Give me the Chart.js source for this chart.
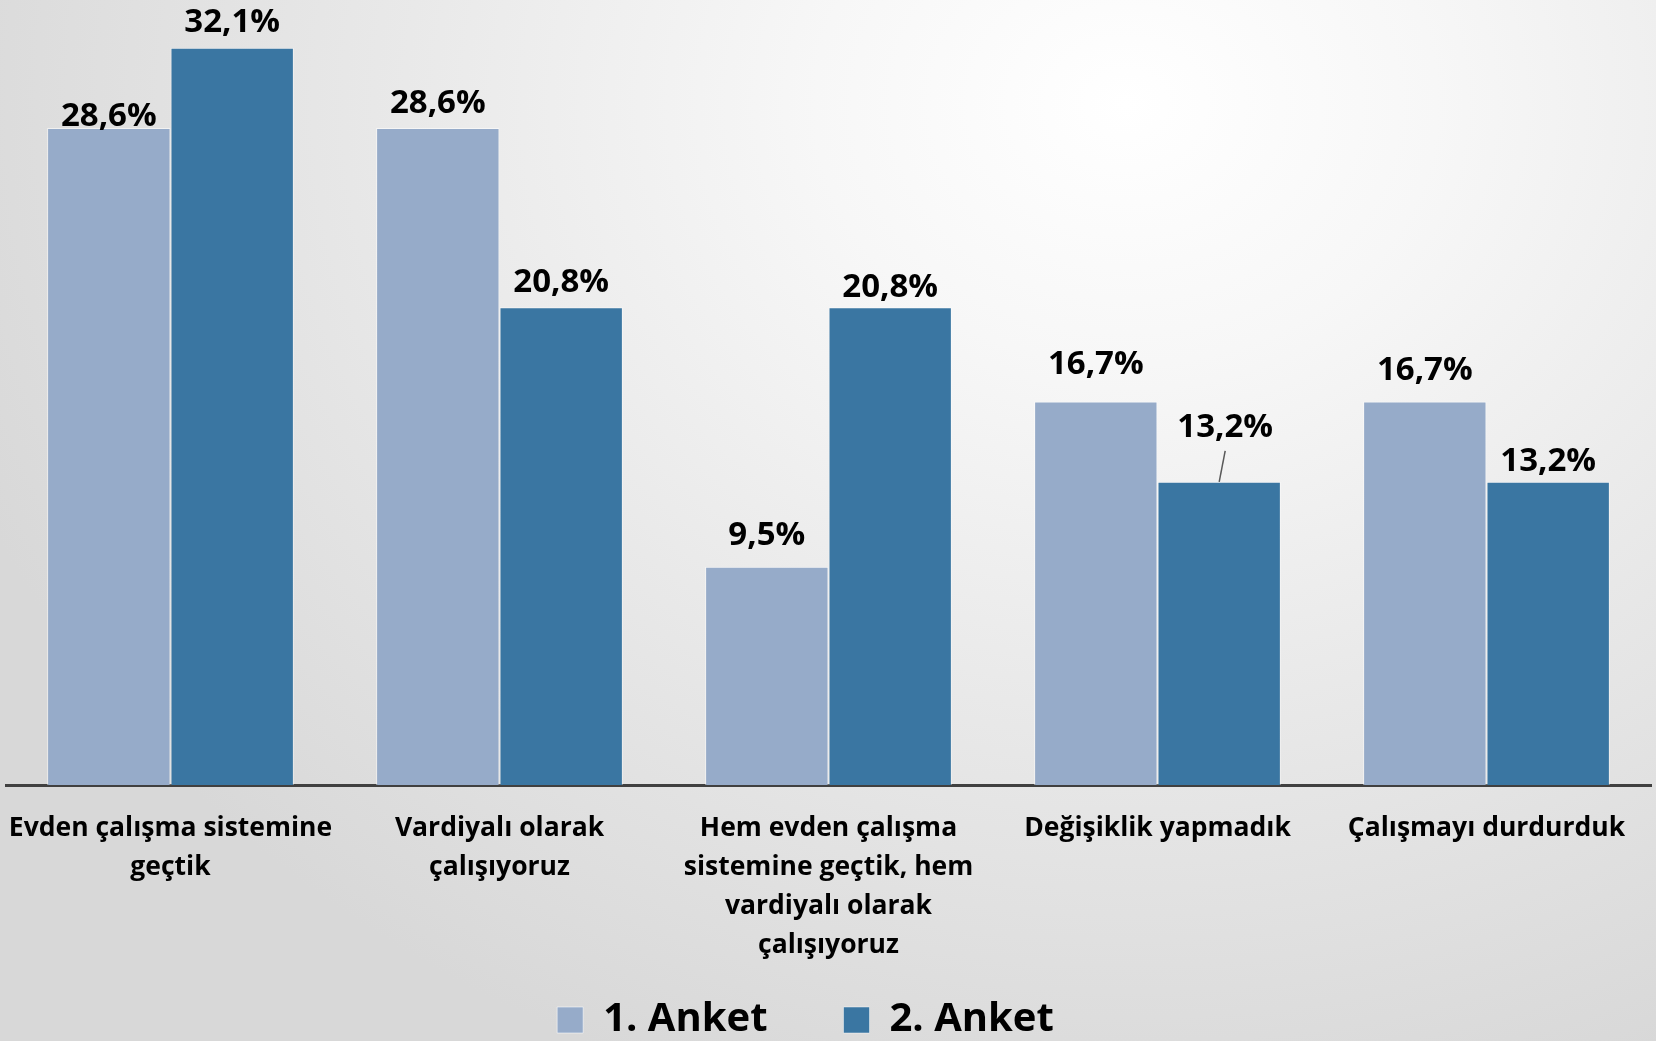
<!DOCTYPE html>
<html>
<head>
<meta charset="utf-8">
<script src="https://cdn.jsdelivr.net/npm/chart.js@4.4.1/dist/chart.umd.min.js"></script>
<style>
  html, body { margin: 0; padding: 0; overflow: hidden; }
  #wrap {
    width: 1656px; height: 1041px; overflow: hidden; position: relative;
    background: radial-gradient(ellipse 75% 100% at 68% 10%, #ffffff 0%, #f7f7f7 25%, #e9e9e9 58%, #d8d8d8 100%);
  }
  #box { width: 1656px; height: 1101px; position: absolute; left: 0; top: 0; }
</style>
</head>
<body>
<div id="wrap"><div id="box"><canvas id="c"></canvas></div></div>
<script>
const categories = [
  ["Evden çalışma sistemine", "geçtik"],
  ["Vardiyalı olarak", "çalışıyoruz"],
  ["Hem evden çalışma", "sistemine geçtik, hem", "vardiyalı olarak", "çalışıyoruz"],
  "Değişiklik yapmadık",
  "Çalışmayı durdurduk"
];
const seriesNames = ["1. Anket", "2. Anket"];
const anket1 = [28.6, 28.6, 9.5, 16.7, 16.7];
const anket2 = [32.1, 20.8, 20.8, 13.2, 13.2];

const FONT = '"Open Sans", Lato, sans-serif';
const fmt = v => v.toFixed(1).replace('.', ',') + '%';

const valueLabels = {
  id: 'valueLabels',
  afterDatasetsDraw(chart, args, opts) {
    const ctx = chart.ctx;
    ctx.save();
    ctx.font = 'bold 33px ' + FONT;
    ctx.fillStyle = '#000';
    ctx.textAlign = 'center';
    ctx.textBaseline = 'alphabetic';
    chart.data.datasets.forEach((ds, di) => {
      const meta = chart.getDatasetMeta(di);
      meta.data.forEach((bar, i) => {
        const off = opts.offsets[di][i];
        const co = opts.callouts.find(c => c.dataset === di && c.index === i);
        let x = bar.x, y = bar.y - off;
        if (co) {
          x = bar.x + co.dx;
          ctx.strokeStyle = '#595959';
          ctx.lineWidth = 1.5;
          ctx.beginPath();
          ctx.moveTo(x, y + 14);
          ctx.lineTo(bar.x, bar.y);
          ctx.stroke();
        }
        ctx.fillText(fmt(ds.data[i]), x, y);
      });
    });
    ctx.restore();
  }
};

const legendShift = {
  id: 'legendShift',
  afterLayout(chart, args, opts) {
    const lg = chart.legend;
    if (lg) {
      lg.left += opts.dx; lg.right += opts.dx;
      lg.top += opts.dy; lg.bottom += opts.dy;
    }
  }
};

new Chart(document.getElementById('c'), {
  type: 'bar',
  data: {
    labels: categories,
    datasets: [
      { label: seriesNames[0], data: anket1, backgroundColor: '#96abc9', borderColor: 'rgba(255,255,255,0.55)', borderWidth: 1 },
      { label: seriesNames[1], data: anket2, backgroundColor: '#3a76a2', borderColor: 'rgba(255,255,255,0.45)', borderWidth: 1 }
    ]
  },
  options: {
    responsive: true,
    maintainAspectRatio: false,
    animation: false,
    devicePixelRatio: 1,
    layout: { padding: { top: 4, left: 6, right: 5, bottom: 0 } },
    datasets: { bar: { categoryPercentage: 0.75, barPercentage: 1.0 } },
    scales: {
      x: {
        grid: { display: false },
        border: { display: true, color: '#404040', width: 3 },
        ticks: {
          color: '#000',
          font: { family: FONT, weight: 'bold', size: 26.5, lineHeight: 1.47 },
          padding: 16,
          maxRotation: 0,
          autoSkip: false
        },
        afterFit(scale) {
          const lg = scale.chart.legend;
          const lh = lg ? lg.height : 0;
          scale.height = scale.chart.height - lh - 785;
          scale.paddingLeft = 0;
          scale.paddingRight = 0;
        }
      },
      y: { display: false, min: 0, max: 34 }
    },
    plugins: {
      tooltip: { enabled: false },
      legend: {
        position: 'bottom',
        labels: {
          color: '#000',
          font: { family: FONT, weight: 'bold', size: 40 },
          boxWidth: 26,
          boxHeight: 26,
          padding: 76
        }
      },
      legendShift: { dx: -23, dy: -51 },
      valueLabels: {
        offsets: [[2, 15, 22, 27, 21], [16, 15, 10, 45, 11]],
        callouts: [{ dataset: 1, index: 3, dx: 6 }]
      }
    }
  },
  plugins: [valueLabels, legendShift]
});
</script>
</body>
</html>
